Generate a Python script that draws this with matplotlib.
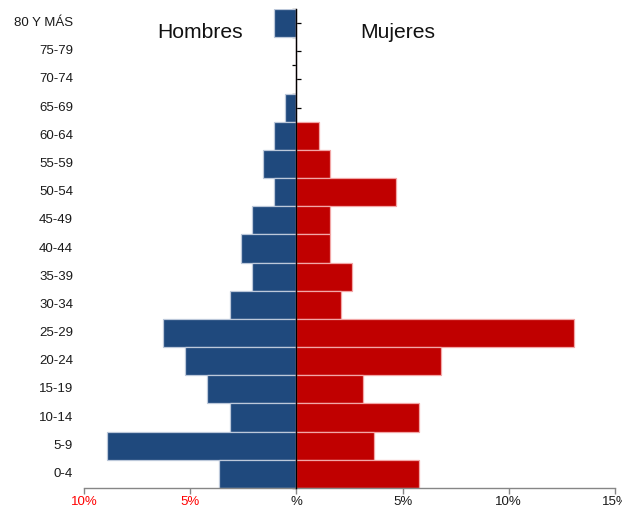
import matplotlib
matplotlib.use("Agg")
import matplotlib.pyplot as plt
from matplotlib.ticker import FixedLocator
from matplotlib.transforms import blended_transform_factory
import numpy as np

plt.rcParams['font.family'] = ['Liberation Sans', 'DejaVu Sans']

# Age groups listed from oldest (top) to youngest (bottom)
age_groups = ["80 Y MÁS", "75-79", "70-74", "65-69", "60-64", "55-59", "50-54",
              "45-49", "40-44", "35-39", "30-34", "25-29", "20-24", "15-19",
              "10-14", "5-9", "0-4"]
# Share of total population (%)
hombres = [1.05, 0, 0, 0.52, 1.05, 1.57, 1.05, 2.09, 2.62, 2.09, 3.14, 6.28,
           5.24, 4.19, 3.14, 8.90, 3.66]
mujeres = [0, 0, 0, 0, 1.05, 1.57, 4.71, 1.57, 1.57, 2.62, 2.09, 13.09,
           6.81, 3.14, 5.76, 3.66, 5.76]
x_ticks = [-10, -5, 0, 5, 10, 15]
x_tick_labels = ["10%", "5%", "%", "5%", "10%", "15%"]

blue = "#1F497D"
red = "#C00000"

fig = plt.figure(figsize=(6.22, 5.08), dpi=100)
ax = fig.add_axes([84 / 622, 20 / 508, 531 / 622, 479 / 508])

n = len(age_groups)
y = np.arange(n)[::-1]  # top group at the highest y

ax.barh(y, -np.array(hombres), height=1.0, color=blue,
        edgecolor="#BCC8DA", linewidth=0.9, zorder=2)
ax.barh(y, np.array(mujeres), height=1.0, color=red,
        edgecolor="#F2A6A6", linewidth=0.9, zorder=2)

ax.set_xlim(-10, 15)
ax.set_ylim(-0.5, n - 0.5)

# Vertical category axis through zero
for s in ["top", "right"]:
    ax.spines[s].set_visible(False)
ax.spines["left"].set_position(("data", 0))
ax.spines["left"].set_color("black")
ax.spines["left"].set_linewidth(1.0)
ax.spines["left"].set_zorder(3)
ax.yaxis.set_major_locator(FixedLocator(list(y)))
ax.yaxis.set_minor_locator(FixedLocator(list(np.arange(n + 1) - 0.5)))
ax.tick_params(axis="y", which="major", direction="in", length=3.5,
               width=0.9, color="black", labelleft=False)
ax.tick_params(axis="y", which="minor", direction="out", length=3,
               width=0.9, color="black")

# Category labels at the far left
label_tf = blended_transform_factory(fig.transFigure, ax.transData)
for yi, lab in zip(y, age_groups):
    ax.text(73 / 622, yi, lab, transform=label_tf, ha="right", va="center",
            fontsize=9.5, color="#1a1a1a")

# Bottom value axis
ax.spines["bottom"].set_color("#868686")
ax.spines["bottom"].set_linewidth(1.0)
ax.set_xticks(x_ticks)
ax.set_xticklabels(x_tick_labels, fontsize=9.5)
ax.tick_params(axis="x", direction="out", length=4, width=1.0,
               color="#868686", pad=2)
for v, t in zip(x_ticks, ax.get_xticklabels()):
    t.set_color("#FF0000" if v < 0 else "#1a1a1a")

fig.text(200 / 622, 1 - 33 / 508, "Hombres", ha="center", va="center",
         fontsize=15.2, color="#111111")
fig.text(398 / 622, 1 - 33 / 508, "Mujeres", ha="center", va="center",
         fontsize=15.2, color="#111111")

fig.savefig("out.png", dpi=100)
